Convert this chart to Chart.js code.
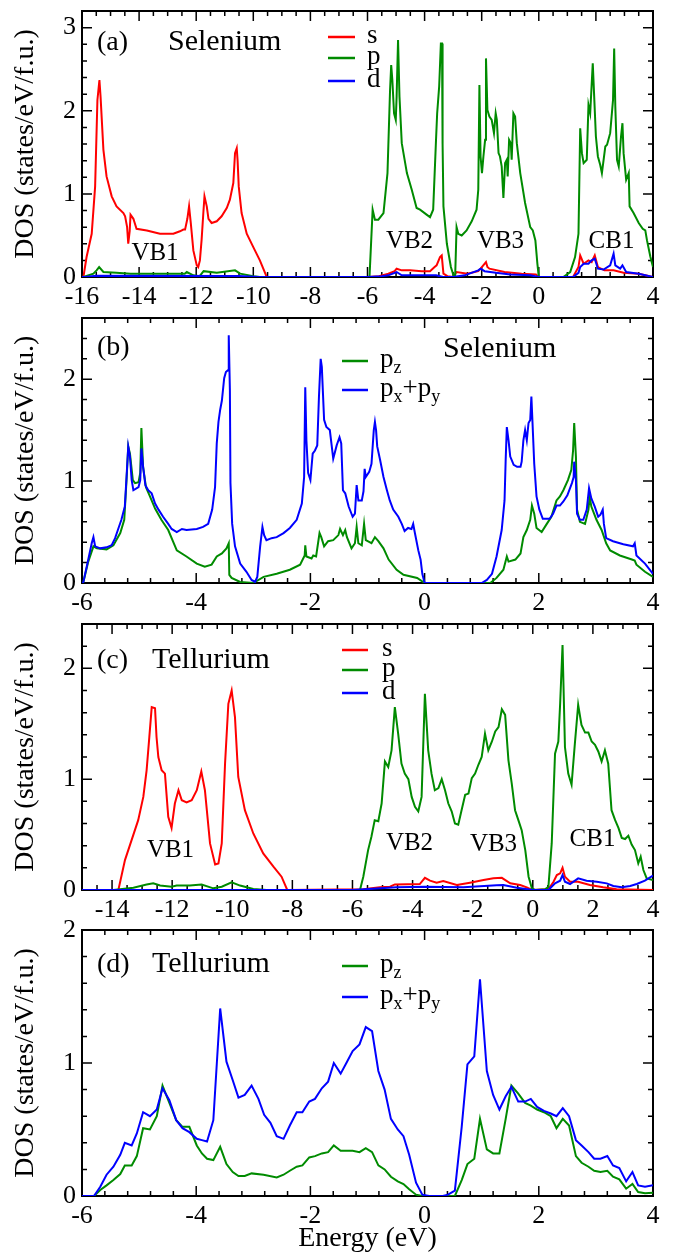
<!DOCTYPE html>
<html>
<head>
<meta charset="utf-8">
<script src="https://cdn.jsdelivr.net/npm/chart.js@4.4.1/dist/chart.umd.min.js"></script>
<style>
  body { margin: 0; background: #fff; width: 675px; height: 1253px; position: relative; overflow: hidden; }
  canvas { position: absolute; left: 0; }
</style>
</head>
<body>
<canvas id="panelA"></canvas>
<canvas id="panelB"></canvas>
<canvas id="panelC"></canvas>
<canvas id="panelD"></canvas>
<script>
// ---- tick labels ----
const aXTicks = [-16, -14, -12, -10, -8, -6, -4, -2, 0, 2, 4];
const bXTicks = [-6, -4, -2, 0, 2, 4];
const cXTicks = [-14, -12, -10, -8, -6, -4, -2, 0, 2, 4];
const dXTicks = [-6, -4, -2, 0, 2, 4];
const aYTicks = [0, 1, 2, 3];
const bYTicks = [0, 1, 2];
const cYTicks = [0, 1, 2];
const dYTicks = [0, 1, 2];

// ---- (a) Selenium s, p, d ----
const seS_E = [
  -16, -15.95, -15.84, -15.66, -15.54, -15.46, -15.39, -15.35, -15.25, -15.14,
  -14.96, -14.79, -14.55, -14.49, -14.42, -14.38, -14.33, -14.30, -14.20, -14.09,
  -13.73, -13.27, -12.80, -12.57, -12.45, -12.39, -12.31, -12.25, -12.19, -12.10,
  -11.98, -11.93, -11.87, -11.81, -11.75, -11.71, -11.63, -11.57, -11.46, -11.28,
  -11.11, -10.93, -10.82, -10.70, -10.64, -10.58, -10.55, -10.51, -10.41, -10.23,
  -10.00, -9.77, -9.53, -6.00, -5.60, -5.27, -5.05, -4.98, -4.80, -4.51,
  -4.10, -3.81, -3.65, -3.58, -3.46, -3.40, -3.34, -3.20, -3.00, -2.88,
  -2.50, -2.12, -2.04, -1.85, -1.80, -1.73, -1.20, -0.60, -0.10, 0.00,
  1.20, 1.39, 1.45, 1.57, 1.74, 1.85, 1.96, 2.07, 2.30, 2.62,
  2.97, 3.50, 4.00];
const seS = [
  0, 0, 0.24, 0.52, 1.09, 2.13, 2.37, 2.17, 1.53, 1.21,
  0.97, 0.85, 0.77, 0.73, 0.60, 0.40, 0.55, 0.75, 0.70, 0.58,
  0.56, 0.52, 0.52, 0.55, 0.57, 0.57, 0.70, 0.85, 0.65, 0.32,
  0.14, 0.12, 0.20, 0.45, 0.77, 0.97, 0.85, 0.70, 0.65, 0.67,
  0.73, 0.83, 0.93, 1.13, 1.49, 1.55, 1.40, 1.09, 0.77, 0.52,
  0.36, 0.20, 0, 0, 0.01, 0.04, 0.07, 0.10, 0.08, 0.08,
  0.07, 0.07, 0.12, 0.14, 0.24, 0.26, 0.04, 0.01, 0, 0.06,
  0.04, 0.07, 0.10, 0.18, 0.12, 0.10, 0.06, 0.04, 0.03, 0,
  0, 0.12, 0.26, 0.16, 0.20, 0.18, 0.26, 0.12, 0.08, 0.08,
  0.05, 0.04, 0];

const seP_E = [
  -16, -15.95, -15.60, -15.49, -15.40, -15.25, -14.80, -14.30, -13.20, -12.40,
  -12.33, -12.10, -11.88, -11.74, -11.28, -10.64, -10.46, -10.00, -9.77, -6.00,
  -5.93, -5.82, -5.74, -5.62, -5.44, -5.30, -5.21, -5.17, -5.13, -5.07,
  -5.01, -4.98, -4.93, -4.88, -4.80, -4.62, -4.45, -4.28, -4.16, -3.93,
  -3.81, -3.70, -3.60, -3.56, -3.49, -3.43, -3.39, -3.37, -3.34, -3.22,
  -3.08, -2.97, -2.93, -2.88, -2.82, -2.70, -2.53, -2.35, -2.18, -2.12,
  -2.08, -2.04, -1.99, -1.94, -1.88, -1.85, -1.80, -1.73, -1.65, -1.57,
  -1.51, -1.47, -1.41, -1.36, -1.30, -1.24, -1.18, -1.12, -1.09, -1.04,
  -0.98, -0.95, -0.89, -0.83, -0.77, -0.65, -0.48, -0.30, -0.21, -0.12,
  -0.05, 0.00, 0.86, 1.10, 1.27, 1.39, 1.45, 1.51, 1.57, 1.68,
  1.74, 1.80, 1.89, 1.94, 2.00, 2.07, 2.15, 2.21, 2.27, 2.33,
  2.39, 2.50, 2.60, 2.64, 2.68, 2.74, 2.80, 2.88, 2.93, 2.97,
  3.06, 3.15, 3.18, 3.32, 3.50, 3.64, 3.73, 3.79, 3.91, 4.00];
const seP = [
  0, 0, 0.04, 0.08, 0.12, 0.06, 0.05, 0.04, 0.04, 0.04,
  0.06, 0.02, 0.01, 0.07, 0.05, 0.08, 0.04, 0.01, 0, 0,
  0, 0.81, 0.69, 0.69, 0.77, 1.25, 2.25, 2.55, 2.37, 1.97,
  1.89, 2.17, 2.85, 2.17, 1.61, 1.25, 1.05, 0.83, 0.81, 0.75,
  0.72, 0.81, 1.65, 1.97, 2.29, 2.81, 2.81, 1.60, 0.85, 0.40,
  0.12, 0, 0, 0.60, 0.52, 0.50, 0.56, 0.67, 0.81, 1.05,
  2.31, 1.45, 1.25, 1.45, 1.65, 2.63, 2.01, 1.93, 1.89, 1.73,
  1.97, 1.89, 1.49, 1.45, 1.33, 0.95, 1.37, 1.41, 1.21, 1.65,
  1.61, 1.41, 1.97, 1.93, 1.61, 1.25, 0.89, 0.60, 0.56, 0.44,
  0.16, 0, 0, 0.06, 0.24, 0.52, 1.79, 1.49, 1.37, 1.41,
  2.07, 1.97, 2.57, 2.17, 1.69, 1.45, 1.35, 1.25, 1.41, 1.57,
  1.59, 1.73, 2.13, 2.75, 2.05, 1.41, 1.33, 1.69, 1.85, 1.49,
  1.17, 1.25, 0.85, 0.77, 0.65, 0.58, 0.56, 0.44, 0.24, 0.12];

const seD_E = [
  -16, -15.90, -15.50, -10.50, -9.80, -6.00, -5.50, -5.27, -4.98, -4.80,
  -4.00, -3.60, -3.35, -3.00, -2.60, -2.12, -2.04, -1.90, -1.50, -1.00,
  -0.30, 0.00, 1.20, 1.39, 1.45, 1.57, 1.74, 1.85, 1.96, 2.07,
  2.27, 2.50, 2.62, 2.68, 2.85, 2.93, 3.06, 3.50, 4.00];
const seD = [
  0, 0, 0.015, 0.012, 0, 0, 0.01, 0.02, 0.06, 0.02,
  0.02, 0.02, 0, 0, 0.02, 0.08, 0.10, 0.07, 0.05, 0.03,
  0.02, 0, 0, 0.05, 0.12, 0.16, 0.16, 0.20, 0.22, 0.10,
  0.09, 0.14, 0.28, 0.14, 0.10, 0.14, 0.06, 0.04, 0];

// ---- (b) Selenium pz, px+py ----
const sePz_E = [
  -6.00, -5.98, -5.89, -5.80, -5.74, -5.57, -5.45, -5.33, -5.26, -5.22,
  -5.19, -5.16, -5.11, -5.07, -5.01, -4.98, -4.96, -4.93, -4.88, -4.81,
  -4.72, -4.61, -4.49, -4.34, -4.17, -3.99, -3.85, -3.73, -3.64, -3.55,
  -3.47, -3.43, -3.42, -3.38, -3.23, -3.00, -2.82, -2.59, -2.36, -2.18,
  -2.10, -2.09, -2.07, -1.98, -1.95, -1.90, -1.84, -1.81, -1.76, -1.69,
  -1.60, -1.51, -1.48, -1.43, -1.39, -1.36, -1.28, -1.22, -1.19, -1.16,
  -1.10, -1.06, -1.03, -0.93, -0.87, -0.81, -0.72, -0.63, -0.49, -0.37,
  -0.13, 0.00, 1.15, 1.26, 1.38, 1.44, 1.47, 1.59, 1.68, 1.73,
  1.79, 1.85, 1.88, 1.92, 1.96, 2.05, 2.14, 2.22, 2.31, 2.37,
  2.43, 2.51, 2.57, 2.60, 2.62, 2.65, 2.67, 2.72, 2.81, 2.87,
  2.89, 2.92, 3.01, 3.10, 3.18, 3.25, 3.42, 3.63, 3.68, 3.71,
  3.86, 4.00];
const sePz = [
  0, 0, 0.21, 0.36, 0.34, 0.33, 0.37, 0.49, 0.62, 1.01,
  1.34, 1.27, 1.01, 0.98, 0.99, 1.08, 1.52, 1.14, 0.94, 0.85,
  0.73, 0.62, 0.52, 0.32, 0.26, 0.19, 0.16, 0.18, 0.26, 0.29,
  0.34, 0.39, 0.08, 0.05, 0.01, 0, 0.06, 0.09, 0.13, 0.18,
  0.27, 0.37, 0.26, 0.24, 0.27, 0.26, 0.49, 0.45, 0.36, 0.41,
  0.42, 0.47, 0.53, 0.47, 0.52, 0.45, 0.34, 0.39, 0.55, 0.39,
  0.37, 0.58, 0.42, 0.39, 0.45, 0.41, 0.34, 0.23, 0.13, 0.08,
  0.05, 0, 0, 0.05, 0.13, 0.26, 0.21, 0.23, 0.29, 0.45,
  0.52, 0.62, 0.76, 0.68, 0.54, 0.50, 0.58, 0.65, 0.81, 0.85,
  0.91, 1.01, 1.11, 1.30, 1.57, 1.24, 0.72, 0.60, 0.58, 0.72,
  0.85, 0.75, 0.62, 0.52, 0.39, 0.32, 0.27, 0.23, 0.22, 0.18,
  0.11, 0.06];

const sePxy_E = [
  -6.00, -5.98, -5.89, -5.83, -5.80, -5.77, -5.68, -5.57, -5.48, -5.42,
  -5.36, -5.31, -5.25, -5.22, -5.19, -5.16, -5.13, -5.10, -5.04, -5.01,
  -4.98, -4.96, -4.93, -4.89, -4.84, -4.78, -4.72, -4.66, -4.58, -4.49,
  -4.43, -4.34, -4.25, -4.17, -3.99, -3.88, -3.79, -3.72, -3.67, -3.64,
  -3.61, -3.58, -3.55, -3.51, -3.48, -3.44, -3.43, -3.41, -3.40, -3.37,
  -3.32, -3.23, -3.12, -3.03, -2.97, -2.93, -2.88, -2.84, -2.81, -2.77,
  -2.68, -2.59, -2.47, -2.36, -2.24, -2.15, -2.11, -2.09, -2.07, -2.04,
  -2.00, -1.96, -1.92, -1.88, -1.85, -1.82, -1.80, -1.76, -1.72, -1.66,
  -1.60, -1.54, -1.49, -1.46, -1.43, -1.39, -1.33, -1.26, -1.22, -1.19,
  -1.16, -1.10, -1.07, -1.05, -1.03, -0.97, -0.93, -0.89, -0.87, -0.85,
  -0.83, -0.78, -0.72, -0.66, -0.61, -0.55, -0.46, -0.40, -0.35, -0.29,
  -0.23, -0.20, -0.17, -0.11, -0.07, -0.04, 0.00, 1.00, 1.09, 1.18,
  1.26, 1.35, 1.40, 1.42, 1.44, 1.47, 1.50, 1.56, 1.62, 1.68,
  1.70, 1.73, 1.76, 1.79, 1.82, 1.85, 1.87, 1.89, 1.92, 1.96,
  2.01, 2.07, 2.19, 2.25, 2.31, 2.37, 2.43, 2.50, 2.58, 2.61,
  2.62, 2.65, 2.67, 2.72, 2.78, 2.84, 2.88, 2.92, 2.98, 3.04,
  3.08, 3.12, 3.14, 3.18, 3.30, 3.48, 3.65, 3.68, 3.71, 3.86,
  4.00];
const sePxy = [
  0, 0, 0.23, 0.39, 0.45, 0.36, 0.34, 0.35, 0.37, 0.44,
  0.54, 0.62, 0.75, 1.04, 1.34, 1.24, 1.01, 0.91, 0.93, 0.94,
  1.01, 1.32, 1.14, 0.96, 0.91, 0.88, 0.78, 0.72, 0.65, 0.58,
  0.53, 0.50, 0.53, 0.52, 0.53, 0.55, 0.58, 0.72, 0.94, 1.37,
  1.58, 1.70, 1.79, 2.01, 2.07, 2.09, 2.43, 1.89, 0.98, 0.58,
  0.36, 0.19, 0.11, 0.03, 0.01, 0.06, 0.36, 0.55, 0.47, 0.42,
  0.44, 0.45, 0.49, 0.54, 0.62, 0.78, 1.04, 1.92, 1.40, 1.08,
  1.01, 1.27, 1.30, 1.35, 1.83, 2.20, 2.12, 1.60, 1.53, 1.50,
  1.22, 1.35, 1.43, 1.37, 0.91, 0.88, 0.75, 0.65, 0.68, 0.96,
  0.81, 0.81, 0.90, 1.12, 1.04, 1.09, 1.17, 1.50, 1.58, 1.50,
  1.34, 1.21, 1.04, 0.91, 0.81, 0.72, 0.65, 0.58, 0.51, 0.54,
  0.53, 0.58, 0.49, 0.32, 0.23, 0.09, 0, 0, 0.03, 0.09,
  0.26, 0.52, 0.81, 1.21, 1.53, 1.40, 1.24, 1.16, 1.14, 1.14,
  1.19, 1.40, 1.50, 1.40, 1.57, 1.60, 1.83, 1.57, 1.17, 0.85,
  0.72, 0.63, 0.63, 0.68, 0.76, 0.76, 0.80, 0.86, 0.98, 1.04,
  1.19, 1.01, 0.68, 0.62, 0.62, 0.72, 0.93, 0.83, 0.75, 0.65,
  0.67, 0.72, 0.58, 0.44, 0.41, 0.38, 0.36, 0.39, 0.27, 0.19,
  0.09];

// ---- (c) Tellurium s, p, d ----
const teS_E = [
  -15.00, -13.79, -13.57, -13.35, -13.13, -12.96, -12.85, -12.76, -12.68, -12.57,
  -12.52, -12.46, -12.35, -12.24, -12.13, -12.02, -11.91, -11.79, -11.68, -11.52,
  -11.35, -11.18, -11.03, -10.91, -10.74, -10.57, -10.46, -10.35, -10.24, -10.13,
  -10.02, -9.91, -9.80, -9.58, -9.30, -8.97, -8.63, -8.36, -8.17, -5.64,
  -5.09, -4.75, -4.59, -3.76, -3.59, -3.42, -3.20, -2.98, -2.53, -2.09,
  -1.64, -1.31, -1.03, -0.75, -0.42, -0.20, -0.03, 0.52, 0.69, 0.80,
  0.91, 0.99, 1.07, 1.24, 1.51, 1.90, 2.34, 2.79, 4.00];
const teS = [
  0, 0, 0.27, 0.45, 0.63, 0.84, 1.08, 1.38, 1.65, 1.64,
  1.38, 1.20, 1.08, 1.05, 0.66, 0.56, 0.78, 0.90, 0.81, 0.79,
  0.81, 0.90, 1.07, 0.90, 0.42, 0.23, 0.24, 0.42, 1.14, 1.68,
  1.80, 1.56, 1.02, 0.72, 0.51, 0.33, 0.21, 0.12, 0, 0.006,
  0.024, 0.03, 0.05, 0.054, 0.11, 0.084, 0.066, 0.08, 0.045, 0.066,
  0.09, 0.105, 0.11, 0.06, 0.045, 0.024, 0, 0.006, 0.075, 0.135,
  0.15, 0.20, 0.12, 0.075, 0.075, 0.045, 0.024, 0.006, 0];

const teP_E = [
  -15.00, -13.96, -13.29, -12.85, -12.63, -12.40, -12.02, -11.85, -11.41, -11.02,
  -10.63, -10.35, -10.02, -9.74, -9.30, -8.86, -5.75, -5.64, -5.48, -5.37,
  -5.26, -5.14, -5.03, -4.92, -4.81, -4.70, -4.59, -4.48, -4.37, -4.26,
  -4.14, -4.03, -3.92, -3.81, -3.70, -3.59, -3.48, -3.37, -3.26, -3.14,
  -3.03, -2.92, -2.81, -2.70, -2.59, -2.48, -2.37, -2.25, -2.14, -2.03,
  -1.92, -1.81, -1.70, -1.59, -1.48, -1.36, -1.25, -1.14, -1.03, -0.92,
  -0.81, -0.70, -0.59, -0.48, -0.37, -0.25, -0.14, -0.03, 0.08, 0.41,
  0.52, 0.63, 0.74, 0.85, 0.91, 0.99, 1.07, 1.18, 1.29, 1.40,
  1.51, 1.62, 1.74, 1.85, 1.96, 2.07, 2.18, 2.29, 2.40, 2.51,
  2.62, 2.74, 2.85, 2.96, 3.07, 3.18, 3.29, 3.40, 3.51, 3.59,
  3.68, 3.79, 4.00];
const teP = [
  0, 0, 0.02, 0.05, 0.06, 0.04, 0.03, 0.04, 0.04, 0.05,
  0.015, 0.03, 0.07, 0.04, 0.01, 0, 0, 0.12, 0.36, 0.48,
  0.63, 0.62, 0.78, 1.16, 1.11, 1.26, 1.65, 1.41, 1.14, 1.05,
  1.00, 0.84, 0.75, 0.71, 0.84, 1.77, 1.26, 1.05, 0.90, 0.92,
  1.00, 0.90, 0.78, 0.71, 0.60, 0.59, 0.72, 0.86, 0.87, 1.01,
  1.05, 1.13, 1.20, 1.41, 1.26, 1.34, 1.43, 1.47, 1.63, 1.58,
  1.17, 0.96, 0.72, 0.63, 0.54, 0.36, 0.12, 0.015, 0, 0.006,
  0.03, 0.42, 1.23, 1.34, 1.68, 2.21, 1.29, 1.05, 0.95, 1.32,
  1.67, 1.49, 1.42, 1.42, 1.34, 1.31, 1.25, 1.16, 1.26, 1.14,
  0.72, 0.63, 0.56, 0.47, 0.46, 0.49, 0.41, 0.36, 0.24, 0.30,
  0.18, 0.105, 0.09];

const teD_E = [
  -15.00, -6.00, -4.54, -3.59, -2.31, -1.20, -0.98, -0.53, 0.00, 0.52,
  0.74, 0.91, 0.99, 1.07, 1.24, 1.51, 1.79, 2.13, 2.46, 2.68,
  2.96, 3.24, 3.46, 3.73, 4.00];
const teD = [
  0, 0, 0.024, 0.03, 0.024, 0.042, 0.045, 0.021, 0, 0,
  0.06, 0.084, 0.135, 0.075, 0.054, 0.105, 0.084, 0.075, 0.06, 0.036,
  0.024, 0.036, 0.054, 0.084, 0.13];

// ---- (d) Tellurium pz, px+py ----
const tePz_E = [
  -6.00, -5.79, -5.68, -5.57, -5.45, -5.33, -5.25, -5.13, -5.04, -4.93,
  -4.81, -4.69, -4.59, -4.47, -4.35, -4.24, -4.12, -3.99, -3.90, -3.81,
  -3.70, -3.58, -3.47, -3.36, -3.26, -3.15, -3.03, -2.82, -2.59, -2.47,
  -2.36, -2.24, -2.14, -2.02, -1.92, -1.80, -1.69, -1.59, -1.47, -1.37,
  -1.26, -1.14, -1.03, -0.92, -0.81, -0.70, -0.59, -0.47, -0.37, -0.27,
  -0.15, -0.04, 0.53, 0.65, 0.75, 0.87, 0.97, 1.09, 1.20, 1.31,
  1.42, 1.52, 1.64, 1.76, 1.86, 1.97, 2.09, 2.21, 2.31, 2.42,
  2.53, 2.65, 2.75, 2.87, 2.97, 3.08, 3.20, 3.30, 3.41, 3.53,
  3.64, 3.74, 3.86, 4.00];
const tePz = [
  0, 0, 0.045, 0.08, 0.12, 0.165, 0.23, 0.23, 0.30, 0.51,
  0.50, 0.60, 0.83, 0.70, 0.57, 0.52, 0.52, 0.38, 0.32, 0.28,
  0.27, 0.37, 0.24, 0.18, 0.15, 0.15, 0.17, 0.16, 0.14, 0.16,
  0.19, 0.22, 0.23, 0.29, 0.30, 0.32, 0.33, 0.38, 0.34, 0.34,
  0.34, 0.33, 0.36, 0.33, 0.23, 0.20, 0.145, 0.11, 0.09, 0.05,
  0.01, 0, 0, 0.12, 0.24, 0.28, 0.58, 0.35, 0.32, 0.32,
  0.58, 0.83, 0.77, 0.70, 0.68, 0.65, 0.63, 0.60, 0.51, 0.58,
  0.53, 0.30, 0.25, 0.22, 0.19, 0.18, 0.19, 0.145, 0.125, 0.055,
  0.09, 0.03, 0.02, 0.025];

const tePxy_E = [
  -6.00, -5.79, -5.68, -5.57, -5.45, -5.33, -5.25, -5.13, -5.04, -4.93,
  -4.81, -4.69, -4.59, -4.47, -4.35, -4.24, -4.12, -3.99, -3.90, -3.81,
  -3.70, -3.58, -3.47, -3.36, -3.26, -3.15, -3.03, -2.91, -2.81, -2.70,
  -2.59, -2.47, -2.36, -2.24, -2.14, -2.02, -1.92, -1.80, -1.69, -1.59,
  -1.47, -1.37, -1.26, -1.14, -1.03, -0.92, -0.81, -0.70, -0.59, -0.47,
  -0.37, -0.27, -0.15, -0.04, 0.08, 0.32, 0.41, 0.53, 0.65, 0.75,
  0.87, 0.97, 1.09, 1.20, 1.31, 1.42, 1.52, 1.64, 1.76, 1.86,
  1.97, 2.09, 2.21, 2.31, 2.42, 2.53, 2.65, 2.75, 2.87, 2.97,
  3.08, 3.20, 3.30, 3.41, 3.53, 3.64, 3.74, 3.86, 4.00];
const tePxy = [
  0, 0, 0.07, 0.16, 0.22, 0.31, 0.40, 0.38, 0.47, 0.63,
  0.60, 0.65, 0.81, 0.72, 0.57, 0.51, 0.48, 0.43, 0.42, 0.41,
  0.57, 1.41, 1.01, 0.87, 0.74, 0.76, 0.83, 0.73, 0.61, 0.55,
  0.45, 0.43, 0.53, 0.63, 0.63, 0.71, 0.73, 0.81, 0.86, 1.00,
  0.92, 1.00, 1.09, 1.14, 1.27, 1.24, 0.94, 0.80, 0.58, 0.50,
  0.45, 0.31, 0.10, 0.01, 0, 0, 0.01, 0.04, 0.52, 0.99,
  1.05, 1.63, 0.94, 0.76, 0.65, 0.75, 0.82, 0.71, 0.71, 0.73,
  0.67, 0.64, 0.62, 0.60, 0.66, 0.60, 0.42, 0.38, 0.33, 0.28,
  0.28, 0.30, 0.23, 0.21, 0.11, 0.18, 0.08, 0.07, 0.08];

const RED = '#ff0000';
const GREEN = '#008b00';
const BLUE = '#0000ff';
const SERIF = "'Liberation Serif', 'Times New Roman', serif";

function zip(xs, ys) {
  return xs.map((x, i) => ({ x: x, y: ys[i] }));
}

function isMajor(v, step) {
  return Math.abs(v / step - Math.round(v / step)) < 1e-6;
}

// frame and inward ticks on all four sides, drawn under the curves
const frame = {
  id: 'frame',
  beforeDatasetsDraw(chart, args, o) {
    const { ctx, chartArea: a, scales: { x, y } } = chart;
    ctx.save();
    ctx.strokeStyle = '#000';
    ctx.lineWidth = 1.5;
    ctx.beginPath();
    const nx = Math.round((x.max - x.min) / o.xMinor);
    for (let i = 0; i <= nx; i++) {
      const v = x.min + i * o.xMinor;
      const len = isMajor(v, 2) ? 10 : 5;
      const px = x.getPixelForValue(v);
      ctx.moveTo(px, a.bottom); ctx.lineTo(px, a.bottom - len);
      ctx.moveTo(px, a.top); ctx.lineTo(px, a.top + len);
    }
    const ny = Math.round((y.max - y.min) / o.yMinor);
    for (let i = 0; i <= ny; i++) {
      const v = y.min + i * o.yMinor;
      const len = isMajor(v, 1) ? 10 : 5;
      const py = y.getPixelForValue(v);
      ctx.moveTo(a.left, py); ctx.lineTo(a.left + len, py);
      ctx.moveTo(a.right, py); ctx.lineTo(a.right - len, py);
    }
    ctx.stroke();
    ctx.lineWidth = 2;
    ctx.strokeRect(a.left, a.top, a.right - a.left, a.bottom - a.top);
    ctx.restore();
  }
};

// panel labels, band names and the legend (with subscripts)
const notes = {
  id: 'notes',
  afterDatasetsDraw(chart, args, o) {
    const { ctx, chartArea: a } = chart;
    ctx.save();
    ctx.fillStyle = '#000';
    ctx.textBaseline = 'alphabetic';
    o.texts.forEach(t => {
      ctx.font = t.size + 'px ' + SERIF;
      ctx.textAlign = t.align || 'left';
      ctx.fillText(t.s, a.left + t.dx, a.top + t.dy);
    });
    const lg = o.legend;
    ctx.textAlign = 'left';
    lg.items.forEach(it => {
      const ly = a.top + it.dy;
      ctx.strokeStyle = it.color;
      ctx.lineWidth = 2.5;
      ctx.beginPath();
      ctx.moveTo(a.left + lg.x0, ly);
      ctx.lineTo(a.left + lg.x1, ly);
      ctx.stroke();
      let tx = a.left + lg.tx;
      it.parts.forEach(([s, sub]) => {
        const size = sub ? 18 : 27;
        ctx.font = size + 'px ' + SERIF;
        ctx.fillText(s, tx, ly + 6 + (sub ? 6 : 0));
        tx += ctx.measureText(s).width;
      });
    });
    ctx.restore();
  }
};

function makePanel(id, box, xr, yr, xt, yt, sets, deco, xTitle) {
  const cv = document.getElementById(id);
  cv.width = 675;
  cv.height = box.h;
  cv.style.top = box.top + 'px';
  const tickFont = { family: SERIF, size: 26 };
  new Chart(cv, {
    type: 'line',
    data: {
      datasets: sets.map(s => ({
        data: zip(s.e, s.v),
        borderColor: s.c,
        borderWidth: 2,
        pointRadius: 0,
        tension: 0,
        fill: false,
        order: s.order
      }))
    },
    options: {
      responsive: false,
      animation: false,
      events: [],
      layout: { padding: { top: box.pad, right: 22, left: 0, bottom: 0 } },
      plugins: {
        legend: { display: false },
        tooltip: { enabled: false },
        frame: { xMinor: deco.xMinor, yMinor: 0.2 },
        notes: deco
      },
      scales: {
        x: {
          type: 'linear',
          min: xr[0], max: xr[1],
          grid: { display: false, drawTicks: false },
          border: { display: false },
          afterBuildTicks: s => { s.ticks = xt.map(v => ({ value: v })); },
          afterFit: s => {
            s.height = box.xh;
            s.paddingLeft = 0; s.paddingRight = 0;
          },
          ticks: { autoSkip: false, maxRotation: 0, padding: 5, color: '#000', font: tickFont },
          title: {
            display: !!xTitle,
            text: xTitle || '',
            color: '#000',
            font: { family: SERIF, size: 28, lineHeight: 1 },
            padding: { top: 0, bottom: 0 }
          }
        },
        y: {
          min: yr[0], max: yr[1],
          grid: { display: false, drawTicks: false },
          border: { display: false },
          afterBuildTicks: s => { s.ticks = yt.map(v => ({ value: v })); },
          afterFit: s => {
            s.width = 82;
            s.paddingTop = 0; s.paddingBottom = 0;
          },
          ticks: { padding: 6, color: '#000', font: tickFont },
          title: {
            display: true,
            text: 'DOS (states/eV/f.u.)',
            color: '#000',
            font: { family: SERIF, size: 28, lineHeight: 1 },
            padding: { top: 12, bottom: 0 }
          }
        }
      }
    },
    plugins: [frame, notes]
  });
}

const spdLegend = (x0, x1, tx, rows) => ({
  x0: x0, x1: x1, tx: tx,
  items: [
    { color: RED, dy: rows[0], parts: [['s', false]] },
    { color: GREEN, dy: rows[1], parts: [['p', false]] },
    { color: BLUE, dy: rows[2], parts: [['d', false]] }
  ]
});
const pLegend = (rows) => ({
  x0: 260, x1: 286, tx: 298,
  items: [
    { color: GREEN, dy: rows[0], parts: [['p', false], ['z', true]] },
    { color: BLUE, dy: rows[1], parts: [['p', false], ['x', true], ['+', false], ['p', false], ['y', true]] }
  ]
});

makePanel('panelA', { top: 0, h: 312, pad: 11, xh: 35 }, [-16, 4], [0, 3.2], aXTicks, aYTicks,
  [
    { e: seS_E, v: seS, c: RED, order: 2 },
    { e: seP_E, v: seP, c: GREEN, order: 1 },
    { e: seD_E, v: seD, c: BLUE, order: 0 }
  ],
  {
    xMinor: 0.5,
    texts: [
      { s: '(a)', dx: 15, dy: 39, size: 28 },
      { s: 'Selenium', dx: 86, dy: 39, size: 30 },
      { s: 'VB1', dx: 73, dy: 249, size: 25, align: 'center' },
      { s: 'VB2', dx: 327.5, dy: 237, size: 25, align: 'center' },
      { s: 'VB3', dx: 418.5, dy: 237, size: 25, align: 'center' },
      { s: 'CB1', dx: 529.5, dy: 237, size: 25, align: 'center' }
    ],
    legend: spdLegend(246, 273, 285, [26, 47, 70])
  });

makePanel('panelB', { top: 312, h: 308, pad: 6, xh: 37 }, [-6, 4], [0, 2.6], bXTicks, bYTicks,
  [
    { e: sePz_E, v: sePz, c: GREEN, order: 1 },
    { e: sePxy_E, v: sePxy, c: BLUE, order: 0 }
  ],
  {
    xMinor: 0.4,
    texts: [
      { s: '(b)', dx: 15, dy: 37, size: 28 },
      { s: 'Selenium', dx: 361, dy: 39, size: 30 }
    ],
    legend: pLegend([43, 72])
  });

makePanel('panelC', { top: 620, h: 305, pad: 4, xh: 35 }, [-15, 4], [0, 2.4], cXTicks, cYTicks,
  [
    { e: teS_E, v: teS, c: RED, order: 2 },
    { e: teP_E, v: teP, c: GREEN, order: 1 },
    { e: teD_E, v: teD, c: BLUE, order: 0 }
  ],
  {
    xMinor: 0.5,
    texts: [
      { s: '(c)', dx: 15, dy: 44, size: 28 },
      { s: 'Tellurium', dx: 70, dy: 44, size: 30 },
      { s: 'VB1', dx: 88.5, dy: 233, size: 25, align: 'center' },
      { s: 'VB2', dx: 327.5, dy: 226, size: 25, align: 'center' },
      { s: 'VB3', dx: 411.5, dy: 227, size: 25, align: 'center' },
      { s: 'CB1', dx: 510.5, dy: 222, size: 25, align: 'center' }
    ],
    legend: spdLegend(260, 286, 300, [26, 46, 69])
  });

// canvas starts higher so the top "2" label of panel (d) is not cut off
makePanel('panelD', { top: 908, h: 345, pad: 22, xh: 57 }, [-6, 4], [0, 2], dXTicks, dYTicks,
  [
    { e: tePz_E, v: tePz, c: GREEN, order: 1 },
    { e: tePxy_E, v: tePxy, c: BLUE, order: 0 }
  ],
  {
    xMinor: 0.4,
    texts: [
      { s: '(d)', dx: 15, dy: 42, size: 28 },
      { s: 'Tellurium', dx: 70, dy: 42, size: 30 }
    ],
    legend: pLegend([36, 67])
  },
  'Energy (eV)');
</script>
</body>
</html>
